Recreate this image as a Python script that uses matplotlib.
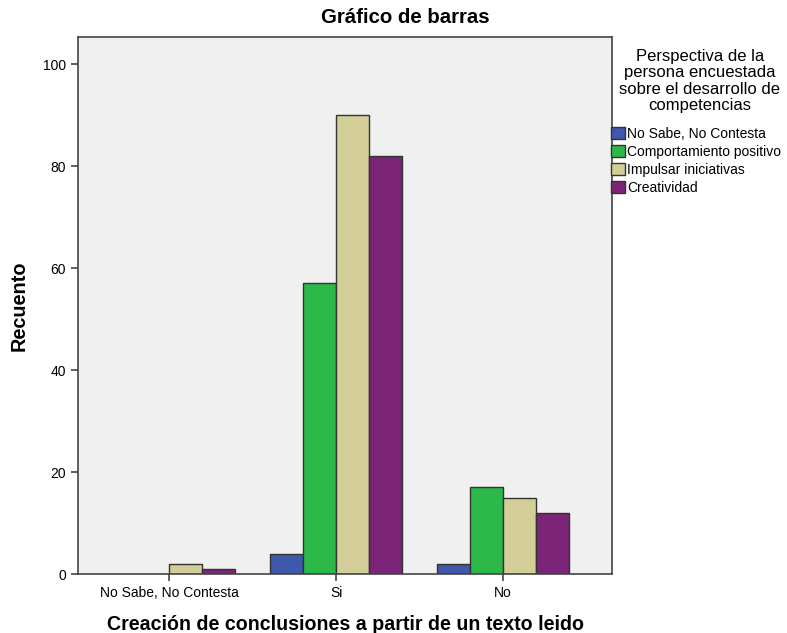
import matplotlib.pyplot as plt
import numpy as np
from matplotlib.patches import Patch

plt.rcParams['font.family'] = ['Liberation Sans', 'DejaVu Sans']

categorias = ["No Sabe, No Contesta", "Si", "No"]
series = ["No Sabe, No Contesta", "Comportamiento positivo",
          "Impulsar iniciativas", "Creatividad"]
no_sabe = [0, 4, 2]
comportamiento = [0, 57, 17]
impulsar = [2, 90, 15]
creatividad = [1, 82, 12]
colores = ["#3E58AC", "#2DB84A", "#D3CE97", "#7B2478"]

valores = [no_sabe, comportamiento, impulsar, creatividad]

fig = plt.figure(figsize=(7.87, 6.33), dpi=100)
ax = fig.add_axes([0.099, 0.0932, 0.679, 0.8483])
ax.set_facecolor("#F0F0F0")

x = np.arange(len(categorias))
w = 0.198
for i, vals in enumerate(valores):
    off = (i - 1.5) * w
    for xi, v in zip(x, vals):
        if v > 0:
            ax.bar(xi + off, v, w, color=colores[i], edgecolor="#333333", linewidth=1)

ax.set_xlim(-0.545, 2.653)
ax.set_ylim(0, 105.3)
ax.set_yticks([0, 20, 40, 60, 80, 100])
ax.set_xticks(x)
ax.set_xticklabels(categorias)
ax.tick_params(axis='both', labelsize=10, color="#444444", length=5, width=1.2)
for s in ax.spines.values():
    s.set_color("#444444")
    s.set_linewidth(1.2)

# titulo centrado en la figura, no en el eje
fig.text(0.515, 0.972, "Gráfico de barras", fontsize=14.7, fontweight='bold',
         ha='center', va='center')
ax.set_ylabel("Recuento", fontsize=14.3, fontweight='bold', labelpad=10)
ax.set_xlabel("Creación de conclusiones a partir de un texto leido",
              fontsize=14.1, fontweight='bold', labelpad=11)

fig.text(0.889, 0.872, "Perspectiva de la\npersona encuestada\nsobre el desarrollo de\ncompetencias",
         fontsize=12, ha='center', va='center', multialignment='center', linespacing=1.11)

handles = [Patch(facecolor=c, edgecolor="#333333", linewidth=1) for c in colores]
leg = fig.legend(handles, series, loc='upper left', bbox_to_anchor=(0.777, 0.8),
                 frameon=False, fontsize=10, handlelength=0.95, handleheight=0.95,
                 handletextpad=0.2, labelspacing=0.3, borderaxespad=0, borderpad=0)

plt.savefig('out.png', dpi=100)
